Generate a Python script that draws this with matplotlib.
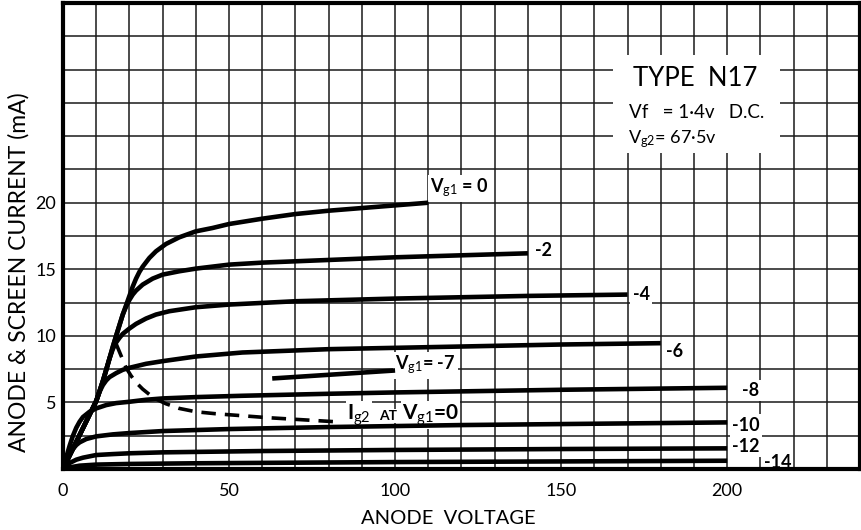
import matplotlib
matplotlib.use('Agg')
import matplotlib.pyplot as plt
from matplotlib.patches import Rectangle

plt.rcParams['font.family'] = ['Lato', 'DejaVu Sans']
plt.rcParams['mathtext.fontset'] = 'custom'
plt.rcParams['mathtext.rm'] = 'Lato'
plt.rcParams['mathtext.it'] = 'Lato'
plt.rcParams['mathtext.bf'] = 'Lato:bold'

# Curvas de corriente de ánodo (V, mA)
v_g0 = [0, 5, 10, 11, 12, 13, 14, 15, 16, 17, 18, 19, 20, 21, 22, 23, 24, 26, 28, 31,
        35, 40, 45, 50, 60, 70, 80, 90, 100, 110]
i_g0 = [0, 2.55, 5.1, 5.8, 6.6, 7.4, 8.3, 9.2, 10.0, 10.8, 11.6, 12.3, 13.0, 13.7, 14.3,
        14.8, 15.2, 15.85, 16.35, 16.9, 17.4, 17.85, 18.1, 18.4, 18.8, 19.15, 19.4, 19.6,
        19.8, 20.0]

v_g2 = [0, 5, 10, 12, 14, 16, 18, 19, 20, 21, 22, 24, 27, 30, 35, 40, 50, 60, 80, 100,
        120, 140]
i_g2 = [0, 2.55, 5.1, 6.6, 8.3, 10.0, 11.6, 12.2, 12.7, 13.1, 13.4, 13.85, 14.3, 14.6,
        14.85, 15.05, 15.35, 15.5, 15.7, 15.9, 16.05, 16.2]

v_g4 = [0, 5, 10, 12, 14, 15, 16, 17, 18, 20, 22, 25, 28, 32, 40, 50, 70, 100, 140, 170]
i_g4 = [0, 2.55, 5.1, 6.6, 8.3, 9.0, 9.5, 9.85, 10.15, 10.55, 10.9, 11.3, 11.6, 11.85,
        12.15, 12.35, 12.6, 12.8, 13.0, 13.1]

v_g6 = [0, 5, 10, 11, 12, 13, 14, 16, 18, 20, 25, 30, 40, 54, 80, 120, 150, 180]
i_g6 = [0, 2.55, 5.1, 5.8, 6.3, 6.65, 6.9, 7.2, 7.45, 7.6, 7.9, 8.1, 8.45, 8.75, 9.0,
        9.2, 9.35, 9.45]

v_g8 = [0, 1, 2, 3, 4, 5, 6, 8, 10, 13, 16, 20, 25, 30, 40, 54, 80, 100, 150, 200]
i_g8 = [0, 0.9, 1.75, 2.5, 3.1, 3.55, 3.9, 4.3, 4.55, 4.8, 4.95, 5.05, 5.2, 5.3, 5.4,
        5.5, 5.65, 5.75, 5.95, 6.1]

v_g10 = [0, 1, 2, 3, 4, 5, 7, 10, 15, 20, 30, 50, 80, 120, 160, 200]
i_g10 = [0, 0.6, 1.1, 1.5, 1.8, 2.0, 2.25, 2.45, 2.6, 2.7, 2.85, 3.0, 3.15, 3.3, 3.4, 3.5]

v_g12 = [0, 1, 2, 4, 6, 8, 10, 15, 20, 30, 60, 100, 150, 200]
i_g12 = [0, 0.25, 0.45, 0.7, 0.85, 0.95, 1.05, 1.12, 1.18, 1.25, 1.35, 1.43, 1.5, 1.55]

v_g14 = [0, 2, 5, 10, 20, 40, 100, 150, 200]
i_g14 = [0, 0.12, 0.25, 0.33, 0.38, 0.43, 0.52, 0.57, 0.62]

v_g7 = [63, 100]
i_g7 = [6.8, 7.4]

# Corriente de pantalla Ig2 a Vg1 = 0 (línea discontinua)
v_ig2 = [16, 17, 18, 19, 20.5, 22, 24, 26, 28, 31, 35, 40, 46, 54, 62, 72, 82]
i_ig2 = [9.4, 8.8, 8.2, 7.6, 7.0, 6.5, 6.0, 5.6, 5.25, 4.9, 4.55, 4.3, 4.15, 4.0, 3.85,
         3.7, 3.55]

curvas = [(v_g0, i_g0), (v_g2, i_g2), (v_g4, i_g4), (v_g6, i_g6), (v_g8, i_g8),
          (v_g10, i_g10), (v_g12, i_g12), (v_g14, i_g14), (v_g7, i_g7)]

# Etiquetas de las curvas: (texto, V, mA)
etiquetas = [(r'V$_{\rm g1}$ = 0', 110.5, 21.1),
             ('-2', 142, 16.4),
             ('-4', 171.5, 13.1),
             ('-6', 181.5, 8.8),
             ('-8', 204.5, 5.9),
             ('-10', 201.5, 3.3),
             ('-12', 201.5, 1.7),
             ('-14', 211, 0.5),
             (r'V$_{\rm g1}$= -7', 100, 7.8)]

x_ticks = [0, 50, 100, 150, 200]
y_ticks = [5, 10, 15, 20]

fig = plt.figure(figsize=(8.61, 5.30), dpi=100)
ax = fig.add_axes([63 / 861, 61 / 530, 797 / 861, 466 / 530])

ax.set_xlim(0, 240)
ax.set_ylim(0, 35)

# Cuadrícula
for gx in range(10, 240, 10):
    ax.axvline(gx, color='#1a1a1a', lw=1.1, zorder=1)
for gy in [k * 2.5 for k in range(1, 14)]:
    ax.axhline(gy, color='#1a1a1a', lw=1.1, zorder=1)

for v, i in curvas:
    ax.plot(v, i, color='black', lw=3.3, solid_capstyle='butt', solid_joinstyle='round',
            zorder=3)

ax.plot(v_ig2, i_ig2, color='black', lw=2.6, ls=(0, (4, 2.5)), zorder=3)

bb = dict(facecolor='white', edgecolor='none', pad=1.5)
for txt, x, y in etiquetas:
    ax.text(x, y, txt, fontsize=13, fontweight='bold', ha='left', va='center',
            bbox=bb, zorder=2)

# Etiqueta de Ig2 en tres partes ("AT" en versalitas)
bb2 = dict(facecolor='white', edgecolor='none', pad=0.8)
ax.text(85.5, 3.7, r'I$_{\rm g2}$', fontsize=15, fontweight='bold', ha='left',
        va='baseline', bbox=bb2, zorder=2)
ax.text(95.2, 3.7, 'AT', fontsize=10, fontweight='bold', ha='left', va='baseline',
        bbox=bb2, zorder=2)
ax.text(102.2, 3.7, r'V$_{\rm g1}$=0', fontsize=15, fontweight='bold', ha='left',
        va='baseline', bbox=bb2, zorder=2)

# Recuadro de tipo
ax.add_patch(Rectangle((165.6, 23.7), 50.3, 7.4, facecolor='white', edgecolor='none',
                       zorder=2))
ax.text(171.5, 29.3, 'TYPE  N17', fontsize=18.5, ha='left', va='center', zorder=4)
ax.text(170.5, 26.8, 'Vf   = 1·4v   D.C.', fontsize=13.5, ha='left', va='center', zorder=4)
ax.text(170, 24.8, r'V$_{\rm g2}$= 67·5v', fontsize=13, ha='left', va='center', zorder=4)

ax.set_xticks(x_ticks)
ax.set_xticklabels([str(t) for t in x_ticks])
ax.set_yticks(y_ticks)
ax.set_yticklabels([str(t) for t in y_ticks])
ax.tick_params(length=0, labelsize=13, colors='black')
ax.tick_params(axis='x', pad=10)
ax.tick_params(axis='y', pad=5)

for s in ax.spines.values():
    s.set_linewidth(3)
    s.set_color('black')
    s.set_zorder(5)

fig.text(448 / 861, 12 / 530, 'ANODE  VOLTAGE', fontsize=14.5, ha='center', va='center')
fig.text(19 / 861, (530 - 272) / 530, 'ANODE & SCREEN CURRENT (mA)', fontsize=16.5,
         rotation=90, ha='center', va='center')

fig.savefig('out.png', dpi=100)
